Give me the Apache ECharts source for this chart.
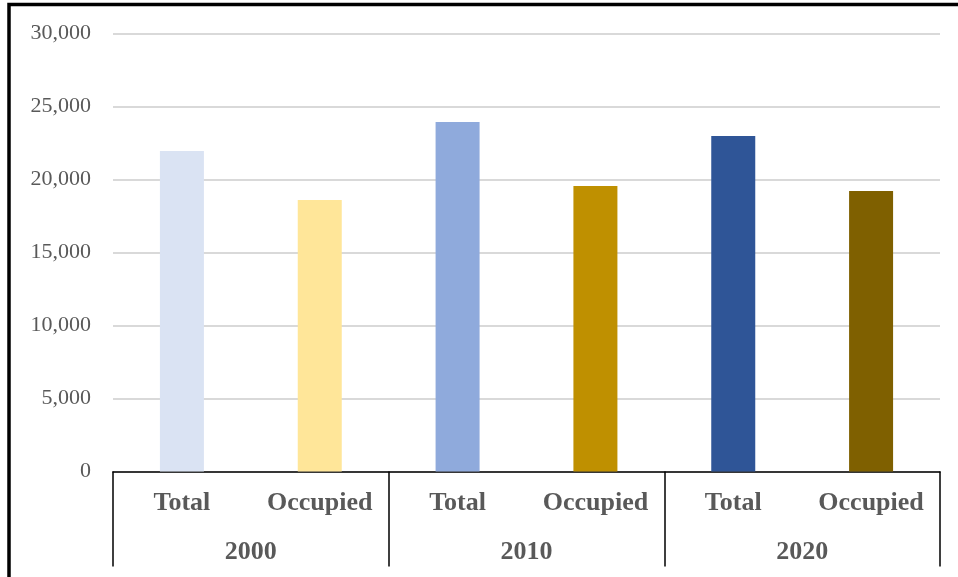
<!DOCTYPE html>
<html>
<head>
<meta charset="utf-8">
<style>
  html, body { margin: 0; padding: 0; background: #fff; }
  #chart { width: 958px; height: 577px; }
</style>
<script src="https://cdn.jsdelivr.net/npm/echarts@6/dist/echarts.min.js"></script>
</head>
<body>
<div id="chart"></div>
<script>
// Housing units by census year: total vs. occupied
const statusLabels = ['Total', 'Occupied', 'Total', 'Occupied', 'Total', 'Occupied'];
const yearLabels = ['2000', '2010', '2020'];
const unitValues = [21940, 18590, 23930, 19550, 22970, 19200];
const barColors = ['#DAE3F3', '#FFE699', '#8FAADC', '#BF9000', '#2F5597', '#7F6000'];
const yTicks = { min: 0, max: 30000, interval: 5000 };

const labelGray = '#595959';
const serif = '"Liberation Serif", "Times New Roman", serif';

const chart = echarts.init(document.getElementById('chart'), null, { renderer: 'canvas' });

chart.setOption({
  animation: false,
  backgroundColor: '#fff',
  grid: { left: 113, right: 18, top: 33.3, bottom: 105.5, containLabel: false },
  xAxis: [
    {
      type: 'category',
      position: 'bottom',
      data: statusLabels,
      axisLine: { show: true, lineStyle: { color: '#000', width: 1.5 } },
      axisTick: { show: false },
      axisLabel: {
        interval: 0,
        margin: 19,
        color: labelGray,
        fontFamily: serif,
        fontWeight: 'bold',
        fontSize: 26
      }
    },
    {
      type: 'category',
      position: 'bottom',
      data: yearLabels,
      axisLine: { show: false },
      axisTick: { show: true, interval: 0, length: 95, lineStyle: { color: '#000', width: 1.5 } },
      axisLabel: {
        interval: 0,
        margin: 68,
        color: labelGray,
        fontFamily: serif,
        fontWeight: 'bold',
        fontSize: 26
      }
    }
  ],
  yAxis: {
    type: 'value',
    min: yTicks.min,
    max: yTicks.max,
    interval: yTicks.interval,
    axisLine: { show: false },
    axisTick: { show: false },
    splitLine: { show: true, lineStyle: { color: '#d9d9d9', width: 2 } },
    axisLabel: {
      margin: 22,
      color: labelGray,
      fontFamily: serif,
      fontSize: 22,
      formatter: v => v.toLocaleString('en-US')
    }
  },
  series: [
    {
      type: 'bar',
      xAxisIndex: 0,
      barWidth: 44,
      data: unitValues.map((v, i) => ({ value: v, itemStyle: { color: barColors[i] } }))
    }
  ],
  graphic: [
    {
      type: 'rect',
      silent: true,
      z: 100,
      shape: { x: 9, y: 4.5, width: 1200, height: 1200 },
      style: { fill: 'none', stroke: '#000', lineWidth: 3.5 }
    }
  ]
});
</script>
</body>
</html>
